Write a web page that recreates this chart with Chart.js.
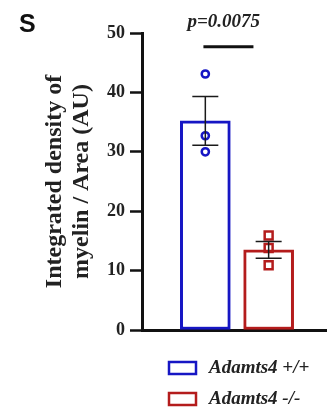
<!DOCTYPE html>
<html>
<head>
<meta charset="utf-8">
<script src="https://cdn.jsdelivr.net/npm/chart.js@4"></script>
<style>
html,body{margin:0;padding:0;background:#fff;}
#wrap{width:335px;height:417px;position:relative;}
</style>
</head>
<body>
<div id="wrap"><canvas id="c" width="335" height="417"></canvas></div>
<script>
// ---- data ----
const groups = ['Adamts4 +/+', 'Adamts4 -/-'];
const groupX = [1, 2];
const means = [35.2, 13.5];
const sems = [4.1, 1.4];
const wtPoints = [43.1, 32.7, 30.0];
const koPoints = [15.9, 13.8, 10.9];
const yTicks = [0, 10, 20, 30, 40, 50];
const pLabel = 'p=0.0075';
const panelLabel = 'S';
const yTitle = ['Integrated density of', 'myelin / Area (AU)'];

// ---- styles ----
const BLUE = '#1616c4';
const RED = '#b41c1c';
const INK = '#1a1a1a';
const serif = '"Liberation Serif", "Times New Roman", serif';

// significance bar (in data units)
const sigBar = { x0: 0.97, x1: 1.76, y: 47.7, textX: 1.29 };

const errorBarPlugin = {
  id: 'errorBars',
  afterDatasetsDraw(chart) {
    const ctx = chart.ctx, xs = chart.scales.x, ys = chart.scales.y;
    ctx.save();
    ctx.strokeStyle = INK;
    ctx.lineWidth = 1.5;
    means.forEach((m, i) => {
      const cx = xs.getPixelForValue(groupX[i]);
      const yt = ys.getPixelForValue(m + sems[i]);
      const yb = ys.getPixelForValue(m - sems[i]);
      const hw = 13;
      ctx.beginPath();
      ctx.moveTo(cx, yt); ctx.lineTo(cx, yb);
      ctx.moveTo(cx - hw, yt); ctx.lineTo(cx + hw, yt);
      ctx.moveTo(cx - hw, yb); ctx.lineTo(cx + hw, yb);
      ctx.stroke();
    });
    // significance bar
    const sy = ys.getPixelForValue(sigBar.y);
    ctx.lineWidth = 3;
    ctx.strokeStyle = '#111';
    ctx.beginPath();
    ctx.moveTo(xs.getPixelForValue(sigBar.x0), sy);
    ctx.lineTo(xs.getPixelForValue(sigBar.x1), sy);
    ctx.stroke();
    ctx.fillStyle = '#222';
    ctx.font = 'italic bold 19px ' + serif;
    ctx.textAlign = 'center';
    ctx.textBaseline = 'middle';
    ctx.fillText(pLabel, xs.getPixelForValue(sigBar.textX), 22);
    // panel label
    ctx.font = 'bold 25px "Liberation Sans", Arial, sans-serif';
    ctx.textAlign = 'left';
    ctx.textBaseline = 'alphabetic';
    ctx.fillStyle = '#111';
    ctx.fillText(panelLabel, 19, 32);
    // legend
    const bars = chart.data.datasets.filter(d => d.type === 'bar');
    ctx.font = 'italic bold 19px ' + serif;
    ctx.textBaseline = 'middle';
    bars.forEach((d, i) => {
      const top = 362 + i * 31;
      ctx.lineWidth = 2.5;
      ctx.strokeStyle = d.borderColor;
      ctx.fillStyle = '#fff';
      ctx.fillRect(169, top, 27, 12);
      ctx.strokeRect(169, top, 27, 12);
      ctx.fillStyle = '#222';
      ctx.fillText(d.label, 209, top + 6);
    });
    ctx.restore();
  }
};

new Chart(document.getElementById('c'), {
  data: {
    datasets: [
      { type: 'bar', label: groups[0], data: [{ x: groupX[0], y: means[0] }],
        backgroundColor: '#fff', borderColor: BLUE, borderWidth: 3, borderSkipped: false,
        barThickness: 50, grouped: false, order: 3 },
      { type: 'bar', label: groups[1], data: [{ x: groupX[1], y: means[1] }],
        backgroundColor: '#fff', borderColor: RED, borderWidth: 3, borderSkipped: false,
        barThickness: 50, grouped: false, order: 3 },
      { type: 'scatter', label: 'wt points', data: wtPoints.map(v => ({ x: groupX[0], y: v })),
        pointStyle: 'circle', pointRadius: 3.6, pointBorderWidth: 2.5,
        borderColor: BLUE, backgroundColor: 'rgba(255,255,255,0)', order: 1 },
      { type: 'scatter', label: 'ko points', data: koPoints.map(v => ({ x: groupX[1], y: v })),
        pointStyle: 'rect', pointRadius: 5.6, pointBorderWidth: 2.5,
        borderColor: RED, backgroundColor: 'rgba(255,255,255,0)', order: 1 }
    ]
  },
  options: {
    responsive: false,
    animation: false,
    events: [],
    layout: { padding: { top: 33, right: 0, bottom: 87, left: 0 } },
    plugins: { legend: { display: false }, tooltip: { enabled: false } },
    scales: {
      x: {
        type: 'linear', min: 0, max: 2.92, offset: false,
        grid: { display: false },
        ticks: { display: false },
        border: { display: true, color: '#111', width: 3 },
        afterFit(s) { s.height = 0; }
      },
      y: {
        min: 0, max: 50,
        afterBuildTicks(s) { s.ticks = yTicks.map(v => ({ value: v })); },
        ticks: { color: '#222', padding: 5, font: { family: serif, size: 18, weight: 'bold' } },
        grid: { drawOnChartArea: false, drawTicks: true, tickLength: 12, tickWidth: 2.5, tickColor: '#111' },
        border: { display: true, color: '#111', width: 3 },
        title: { display: true, text: yTitle, color: '#222',
          font: { family: serif, size: 24, weight: 'bold', lineHeight: 1.12 },
          padding: { top: 41, bottom: 0 } },
        afterFit(s) { s.width = 142; }
      }
    }
  },
  plugins: [errorBarPlugin]
});
</script>
</body>
</html>
